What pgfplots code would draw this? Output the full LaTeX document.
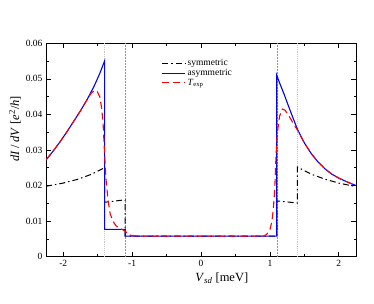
\documentclass[border=0pt]{standalone}
\usepackage{fontspec}
\setmainfont{Liberation Serif}
\usepackage{pgfplots}
\pgfplotsset{compat=1.18}
\begin{document}
\begin{tikzpicture}
\begin{axis}[
  scale only axis, width=310pt, height=213.4pt,
  xmin=-2.25, xmax=2.25, ymin=0, ymax=0.06,
  scaled y ticks=false, scaled x ticks=false,
  xtick={-2,-1,0,1,2}, xticklabels={-2,-1,0,1,2},
  ytick={0,0.01,0.02,0.03,0.04,0.05,0.06},
  yticklabels={0,0.01,0.02,0.03,0.04,0.05,0.06},
  minor x tick num=1, minor y tick num=1,
  tick align=inside, major tick length=5pt, minor tick length=2.5pt,
  tick style={black, line width=0.6pt},
  axis line style={line width=0.7pt},
  ticklabel style={font=\fontsize{9.5}{10}\selectfont},
  /pgf/number format/assume math mode=true,
  xlabel={\textit{V}\textsubscript{\textit{sd}} [meV]},
  ylabel={\textit{dI}\,/\,\textit{dV} [\textit{e}\textsuperscript{2}/\textit{h}]},
  label style={font=\fontsize{12.5}{14}\selectfont},
  xlabel style={at={(axis description cs:0.567,0)}, anchor=north, yshift=-13pt},
  ylabel style={at={(axis description cs:-0.1,0.6)}, anchor=center},
  legend style={at={(axis description cs:0.372,0.935)}, anchor=north west, draw=none, fill=none,
    font=\fontsize{9.5}{10}\selectfont, row sep=-2pt, inner sep=0pt},
  legend cell align=left,
  legend image code/.code={\draw[#1] (0pt,0pt) -- (23pt,0pt);},
]
\addplot[gray!45, line width=0.9pt, densely dotted, forget plot] coordinates {(-1.4,0) (-1.4,0.06)};
\addplot[gray!45, line width=0.9pt, densely dotted, forget plot] coordinates {(1.4,0) (1.4,0.06)};
\addplot[red!60, line width=0.5pt, densely dotted, forget plot] coordinates {(-1.1,0) (-1.1,0.06)};
\addplot[red!60, line width=0.5pt, densely dotted, forget plot] coordinates {(1.1,0) (1.1,0.06)};

\addplot[black, line width=1pt, dash pattern=on 6pt off 3pt on 1.5pt off 3pt] coordinates {
(-2.25,0.0198) (-2.0,0.0207) (-1.8,0.0217) (-1.6,0.0231) (-1.4,0.0250) (-1.4,0.0153) (-1.1,0.0160) (-1.1,0.0058) (1.1,0.0058) (1.1,0.0157) (1.4,0.0151) (1.4,0.0252) (1.6,0.0232) (1.8,0.0218) (2.0,0.0207) (2.25,0.0197)
};
\addlegendentry{symmetric}
\addplot[blue, line width=1.1pt] coordinates {
(-2.25,0.0272) (-2.15,0.0296) (-2.05,0.0322) (-1.95,0.0350) (-1.85,0.0380) (-1.75,0.0410) (-1.65,0.0443) (-1.55,0.0480) (-1.47,0.0515) (-1.4,0.0550) (-1.4,0.0077) (-1.1,0.0077) (-1.1,0.0058) (1.1,0.0058) (1.1,0.0510) (1.15,0.0484) (1.2,0.0460) (1.25,0.0434) (1.3,0.0408) (1.35,0.0383) (1.4,0.0358) (1.5,0.0320) (1.6,0.0290) (1.7,0.0266) (1.8,0.0247) (1.9,0.0232) (2.0,0.0221) (2.1,0.0212) (2.25,0.0200)
};
\addlegendentry{asymmetric}
\addplot[red, line width=1.1pt, dash pattern=on 7pt off 4pt] coordinates {
(-2.25,0.0272) (-2.15,0.0296) (-2.05,0.0322) (-1.95,0.0350) (-1.85,0.0380) (-1.75,0.0410) (-1.65,0.0443) (-1.6,0.0458) (-1.55,0.0467) (-1.51,0.0466) (-1.47,0.0450) (-1.44,0.0415) (-1.42,0.0370) (-1.40,0.0290) (-1.38,0.0220) (-1.35,0.0160) (-1.32,0.0122) (-1.28,0.0100) (-1.23,0.0086) (-1.15,0.0077) (-1.1,0.0072) (-1.06,0.0063) (-1.0,0.0059) (-0.9,0.0058) (0.9,0.0058) (0.95,0.0062) (1.0,0.0075) (1.03,0.0100) (1.05,0.0135) (1.07,0.0188) (1.09,0.0290) (1.11,0.0350) (1.14,0.0395) (1.18,0.0415) (1.22,0.0412) (1.27,0.0398) (1.33,0.0378) (1.4,0.0356) (1.5,0.0320) (1.6,0.0290) (1.7,0.0266) (1.8,0.0247) (1.9,0.0232) (2.0,0.0221) (2.1,0.0212) (2.25,0.0200)
};
\addlegendentry{\textit{T}\textsubscript{exp}}
\end{axis}
\path[use as bounding box] (-46pt,-47.3pt) rectangle (328pt,256.7pt);
\end{tikzpicture}
\end{document}
